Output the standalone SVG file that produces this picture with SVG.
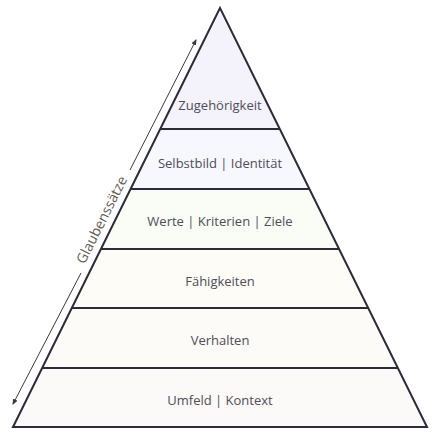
<svg xmlns="http://www.w3.org/2000/svg" width="438" height="438" viewBox="0 0 438 438">
<style>
.lbl{font-family:"Open Sans","Lato",sans-serif;font-size:13px;fill:#4f4c5a;text-anchor:middle}
.div{stroke:#2c2b3a;stroke-width:2}
.arr{stroke:#3a3a3a;stroke-width:1;fill:none}
</style>
<defs>
<marker id="ah" viewBox="0 0 6 6" refX="5" refY="3" markerWidth="6" markerHeight="6" orient="auto">
<path d="M0,0.5 L6,3 L0,5.5 z" fill="#3a3a3a"/>
</marker>
</defs>
<rect width="438" height="438" fill="#ffffff"/>
<g id="fills">
<polygon points="220,12 160,129 280,129" fill="#f4f3fb"/>
<polygon points="160,129 280,129 310,189 130,189" fill="#f7f8fd"/>
<polygon points="130,189 310,189 340,249 100,249" fill="#fafcf6"/>
<polygon points="100,249 340,249 370,308 71,308" fill="#fdfcf6"/>
<polygon points="71,308 370,308 398,368 42,368" fill="#fcfbf7"/>
<polygon points="42,368 398,368 425,426 14,426" fill="#fcf9f9"/>
</g>
<g id="layer-zugehoerigkeit"><text class="lbl" x="220" y="110">Zugehörigkeit</text></g>
<g id="layer-selbstbild"><text class="lbl" x="220" y="168">Selbstbild | Identität</text></g>
<g id="layer-werte"><text class="lbl" x="220" y="226">Werte | Kriterien | Ziele</text></g>
<g id="layer-faehigkeiten"><text class="lbl" x="220" y="286">Fähigkeiten</text></g>
<g id="layer-verhalten"><text class="lbl" x="220" y="345">Verhalten</text></g>
<g id="layer-umfeld"><text class="lbl" x="220" y="405">Umfeld | Kontext</text></g>
<g id="pyramid">
<polygon points="220,8 13,427 427,427" fill="none" stroke="#2c2b3a" stroke-width="2" stroke-linejoin="miter"/>
<line class="div" x1="160" y1="129" x2="280" y2="129"/>
<line class="div" x1="131" y1="189" x2="309" y2="189"/>
<line class="div" x1="101" y1="249" x2="339" y2="249"/>
<line class="div" x1="72" y1="308" x2="368" y2="308"/>
<line class="div" x1="42" y1="368" x2="398" y2="368"/>
</g>
<g id="connectors">
<line class="arr" x1="130" y1="170" x2="196" y2="40" marker-end="url(#ah)"/>
<line class="arr" x1="81" y1="273" x2="13" y2="404" marker-end="url(#ah)"/>
</g>
<g id="label-glaubenssaetze">
<text class="lbl" transform="translate(106,222) rotate(-63.3)" style="fill:#5e5a55;font-size:14px">Glaubenssätze</text>
</g>
</svg>
